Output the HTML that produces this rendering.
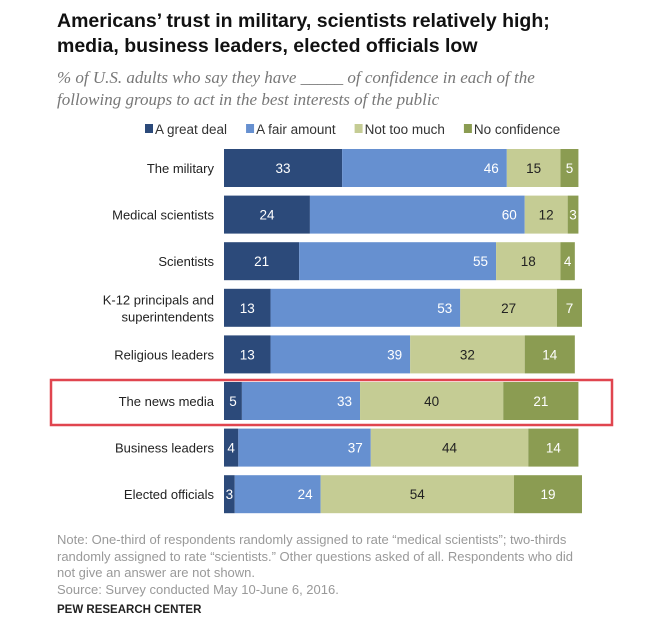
<!DOCTYPE html>
<html><head><meta charset="utf-8"><style>
body{margin:0;background:#fff;width:647px;height:636px;overflow:hidden;font-family:"Liberation Sans",sans-serif;position:relative}
.t{position:absolute;white-space:nowrap}
</style></head><body>
<div class="t" style="left:57px;top:9px;font-size:19.5px;font-weight:bold;line-height:25px;color:#111">Americans’ trust in military, scientists relatively high;<br>media, business leaders, elected officials low</div>
<div class="t" style="left:57px;top:67px;font-family:'Liberation Serif',serif;font-style:italic;font-size:17px;line-height:22px;color:#777">% of U.S. adults who say they have _____ of confidence in each of the<br>following groups to act in the best interests of the public</div>
<svg id="c" width="647" height="636" style="position:absolute;left:0;top:0"></svg>
<div class="t" style="left:57px;top:532px;font-size:13px;line-height:16.5px;color:#999">Note: One-third of respondents randomly assigned to rate “medical scientists”; two-thirds<br>randomly assigned to rate “scientists.” Other questions asked of all. Respondents who did<br>not give an answer are not shown.<br>Source: Survey conducted May 10-June 6, 2016.</div>
<div class="t" style="left:57px;top:604px;font-size:11.5px;font-weight:bold;color:#222">PEW RESEARCH CENTER</div>
<script>
const categories=["The military","Medical scientists","Scientists","K-12 principals and|superintendents","Religious leaders","The news media","Business leaders","Elected officials"];
const greatDeal=[33,24,21,13,13,5,4,3];
const fairAmount=[46,60,55,53,39,33,37,24];
const notTooMuch=[15,12,18,27,32,40,44,54];
const noConfidence=[5,3,4,7,14,21,14,19];
const seriesNames=["A great deal","A fair amount","Not too much","No confidence"];
const colors=["#2c4a7a","#6690d0","#c5cc94","#8b9c52"];
const textColors=["#fff","#fff","#222","#fff"];
const svg=document.getElementById('c');const NS="http://www.w3.org/2000/svg";
const x0=224,ppu=3.58,y0=168,step=46.6,bh=38;
const xs=v=>v*ppu;const yc=i=>y0+i*step;
function mk(t,a){const e=document.createElementNS(NS,t);for(const k in a)e.setAttribute(k,a[k]);svg.appendChild(e);return e;}
const hb=mk('rect',{x:51,y:380,width:561,height:45,fill:'none',stroke:'#e0454f','stroke-width':2.5});


let lx=145;
seriesNames.forEach((n,s)=>{
 const r=mk('rect',{x:lx,y:124,width:8,height:9,fill:colors[s]});
 
 
 const t=mk('text',{x:lx+10,y:134,'font-size':13.5,fill:'#333','font-family':'Liberation Sans'});
 t.textContent=n;
 
 
 lx+=10+t.getComputedTextLength()+19;
});
const series=[greatDeal,fairAmount,notTooMuch,noConfidence];
categories.forEach((c,i)=>{
 const parts=c.split('|');
 parts.forEach((p,k)=>{
  const t=mk('text',{x:214,y:yc(i)+5+(k-(parts.length-1)/2)*17,'font-size':13,fill:'#222','text-anchor':'end','font-family':'Liberation Sans'});
  t.textContent=p;
  
  
 });
 let acc=0;
 series.forEach((arr,s)=>{
  const v=arr[i];const x=x0+xs(acc);const w=xs(v);
  const r=mk('rect',{x:x,y:yc(i)-bh/2,width:w,height:bh,fill:colors[s]});
  
  
  let tx,anchor;
  if(s===1){tx=x+w-8;anchor='end';}
  else{tx=x+w/2;anchor='middle';}
  const t=mk('text',{x:tx,y:yc(i)+5,'font-size':13.5,fill:textColors[s],'text-anchor':anchor,'font-family':'Liberation Sans'});
  t.textContent=v;
  
  
  acc+=v;
 });
});
</script>
</body></html>
